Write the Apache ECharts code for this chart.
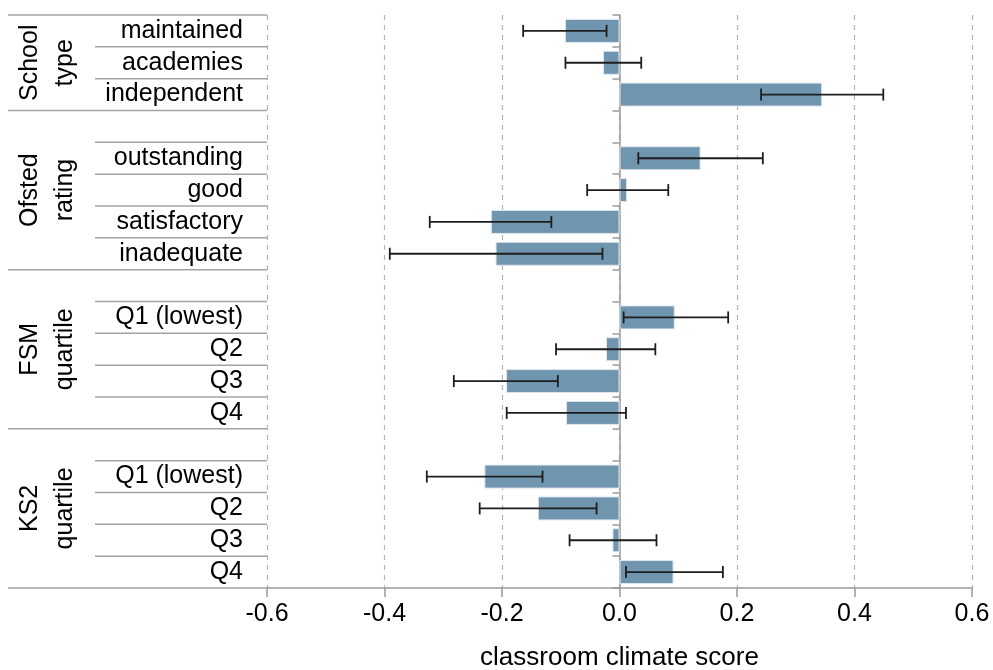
<!DOCTYPE html>
<html>
<head>
<meta charset="utf-8">
<script src="https://cdn.jsdelivr.net/npm/echarts@6/dist/echarts.min.js"></script>
<style>
  html,body{margin:0;padding:0;background:#fff;}
  #main{width:993px;height:670px;}
</style>
</head>
<body>
<div id="main"></div>
<script>
// categories, blank slots separate the groups
const categories = ['maintained','academies','independent','','outstanding','good','satisfactory','inadequate','','Q1 (lowest)','Q2','Q3','Q4','','Q1 (lowest)','Q2','Q3','Q4']
const groupNames = ['School\ntype','Ofsted\nrating','FSM\nquartile','KS2\nquartile']
const groupStart = [0,3,8,13]
const groupEnd = [3,8,13,18]
// classroom climate score and its interval
const scores = [-0.093,-0.028,0.345,null,0.138,0.013,-0.219,-0.211,null,0.094,-0.023,-0.193,-0.091,null,-0.230,-0.139,-0.012,0.092]
const ciLow = [-0.164,-0.092,0.241,null,0.032,-0.055,-0.323,-0.391,null,0.007,-0.108,-0.282,-0.192,null,-0.328,-0.238,-0.085,0.011]
const ciHigh = [-0.022,0.037,0.449,null,0.244,0.083,-0.116,-0.029,null,0.185,0.061,-0.105,0.011,null,-0.131,-0.039,0.063,0.176]
const xTicks = {min:-0.6,max:0.6,interval:0.2}

const FONT = "'Liberation Sans', Arial, sans-serif"
const chart = echarts.init(document.getElementById('main'))

// error bar rows
const errData = []
scores.forEach((v,i)=>{
  if(v !== null) errData.push([i, ciLow[i], ciHigh[i]])
})

// separator lines at the top of each labelled row, and at group edges
const sepData = []
categories.forEach((c,i)=>{
  if(groupStart.indexOf(i) >= 0) sepData.push([i,1])
  else if(c !== '') sepData.push([i,0])
})
sepData.push([categories.length,1])

const option = {
  animation:false,
  grid:{left:267,right:21,top:15,bottom:82,containLabel:false,outerBoundsMode:'none'},
  xAxis:{
    type:'value',
    min:xTicks.min,max:xTicks.max,interval:xTicks.interval,
    name:'classroom climate score',
    nameLocation:'middle',
    nameGap:57,
    nameTextStyle:{fontFamily:FONT,fontSize:26,color:'#000'},
    axisLine:{show:true,onZero:false,lineStyle:{color:'#9a9a9a',width:1.5}},
    axisTick:{show:true,length:9,lineStyle:{color:'#9a9a9a',width:1.5}},
    axisLabel:{fontFamily:FONT,fontSize:25,color:'#000',margin:14,
      formatter:(v)=>v.toFixed(1)},
    splitLine:{show:true,lineStyle:{color:'#b5b5b5',type:[5,5],width:1.2}}
  },
  yAxis:[
    {
      // axis drawn on the zero line
      type:'category',
      data:categories,
      inverse:true,
      axisLine:{show:true,onZero:true,lineStyle:{color:'#9a9a9a',width:1.5}},
      axisTick:{show:true,length:7,lineStyle:{color:'#9a9a9a',width:1.5}},
      axisLabel:{show:false},
      splitLine:{show:false}
    },
    {
      // row labels on the left
      type:'category',
      data:categories,
      inverse:true,
      position:'left',
      axisLine:{show:false,onZero:false},
      axisTick:{show:false},
      axisLabel:{show:true,interval:0,margin:24,fontFamily:FONT,fontSize:25,color:'#000',
        padding:[8,0,0,0]},
      splitLine:{show:false}
    }
  ],
  series:[
    {
      type:'bar',
      yAxisIndex:0,
      data:scores,
      barWidth:24,
      itemStyle:{color:'#7095ae',borderColor:'#dfe7ee',borderWidth:1}
    },
    {
      type:'custom',
      yAxisIndex:0,
      clip:false,
      data:errData,
      encode:{y:0,x:[1,2]},
      renderItem:function(params,api){
        const lo = api.coord([api.value(1),api.value(0)])
        const hi = api.coord([api.value(2),api.value(0)])
        const h = 6
        const st = {stroke:'#1e1e1e',lineWidth:1.8}
        return {
          type:'group',
          children:[
            {type:'line',shape:{x1:lo[0],y1:lo[1],x2:hi[0],y2:hi[1]},style:st},
            {type:'line',shape:{x1:lo[0],y1:lo[1]-h,x2:lo[0],y2:lo[1]+h},style:st},
            {type:'line',shape:{x1:hi[0],y1:hi[1]-h,x2:hi[0],y2:hi[1]+h},style:st}
          ]
        }
      },
      z:5
    },
    {
      type:'custom',
      yAxisIndex:0,
      clip:false,
      silent:true,
      data:sepData,
      encode:{y:0},
      renderItem:function(params,api){
        const i = api.value(0)
        const band = api.size([0,1])[1]
        let p
        if(i < categories.length){
          p = api.coord([xTicks.min,i])
          p = [p[0], p[1]-band/2]
        }else{
          p = api.coord([xTicks.min,i-1])
          p = [p[0], p[1]+band/2]
        }
        const len = api.value(1) ? 259 : 172
        return {
          type:'line',
          shape:{x1:p[0]-len,y1:p[1],x2:p[0],y2:p[1]},
          style:{stroke:'#a3a3a3',lineWidth:1.5}
        }
      }
    },
    {
      type:'custom',
      yAxisIndex:0,
      clip:false,
      silent:true,
      data:groupNames.map((n,g)=>[groupStart[g],g]),
      encode:{y:0},
      renderItem:function(params,api){
        const g = api.value(1)
        const band = api.size([0,1])[1]
        const top = api.coord([xTicks.min,groupStart[g]])[1]-band/2
        const bottom = api.coord([xTicks.min,groupEnd[g]-1])[1]+band/2
        const x0 = api.coord([xTicks.min,0])[0]
        return {
          type:'text',
          x:x0-219,
          y:(top+bottom)/2,
          rotation:Math.PI/2,
          style:{
            text:groupNames[g],
            fontFamily:FONT,
            fontSize:25,
            lineHeight:35,
            fill:'#000',
            align:'center',
            verticalAlign:'middle'
          }
        }
      }
    }
  ]
}
chart.setOption(option)
</script>
</body>
</html>
